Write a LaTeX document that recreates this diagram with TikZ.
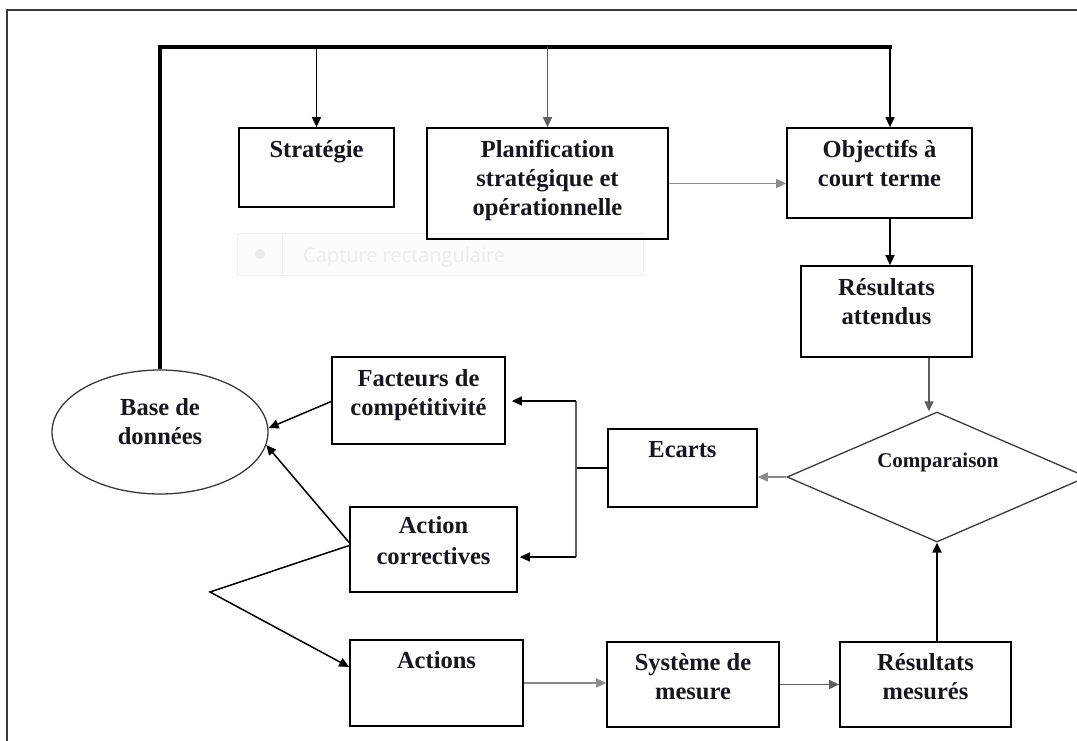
\documentclass[tikz,border=0pt]{standalone}
\usepackage{fontspec}
\setmainfont{Liberation Serif}
\newfontfamily\capfont{Open Sans}
\usetikzlibrary{arrows.meta,shapes.geometric}
\definecolor{ink}{HTML}{16161E}
\definecolor{linegray}{HTML}{8C8C8C}
\definecolor{darkgray}{HTML}{5E5E5E}
\definecolor{shapegray}{HTML}{3A3A3A}
\definecolor{capline}{HTML}{F1F1F1}
\definecolor{capfill}{HTML}{FCFCFC}
\definecolor{captext}{HTML}{ECECEC}
\newcommand\mylines[1]{\begin{tabular}[t]{@{}c@{}}#1\end{tabular}}
\tikzset{
  box/.style={draw=black, line width=1.7pt, rectangle, inner sep=0pt},
  txt/.style={anchor=base, inner sep=0pt, text=ink, font=\bfseries\fontsize{24.5}{29}\selectfont},
  conn/.style={line width=1.5pt, draw=black},
  arr/.style={conn, -{Triangle[length=10pt,width=9pt]}},
  grayline/.style={draw=linegray},
  midgray/.style={draw=darkgray},
  fb/.style={line width=3.3pt, draw=black}
}
\begin{document}
\begin{tikzpicture}[x=1pt,y=-1pt]
\useasboundingbox (0,0) rectangle (1077,740);
\fill[white] (0,0) rectangle (1077,740);
% outer frame
\draw[line width=1.5pt, draw=shapegray] (7,750) -- (7,10) -- (1090,10);
% faint screen-capture overlay
\node[draw=capline, fill=capfill, line width=1pt, minimum width=406pt, minimum height=42pt, inner sep=0pt] (cap) at (440,254) {};
\draw[draw=capline, line width=1pt] (282,233) -- (282,275);
\fill[captext] (260,254) circle (5pt);
\node[anchor=base west, inner sep=0pt, text=captext, font=\capfont\fontsize{20}{24}\selectfont] (captxt) at (303,262) {Capture rectangulaire};
% boxes
\node[box, minimum width=155pt, minimum height=79pt] (strat) at (316.5,167.5) {};
\node[box, minimum width=241pt, minimum height=111pt] (plan) at (547.5,183.5) {};
\node[box, minimum width=185pt, minimum height=90pt] (obj) at (879.5,173) {};
\node[box, minimum width=171pt, minimum height=91pt] (resatt) at (886.5,311.5) {};
\node[box, minimum width=149pt, minimum height=78pt] (ecarts) at (682.5,468) {};
\node[box, minimum width=173pt, minimum height=87pt] (fact) at (418.5,400.5) {};
\node[box, minimum width=167pt, minimum height=85pt] (actcor) at (433.5,549.5) {};
\node[box, minimum width=173pt, minimum height=86pt] (actions) at (436.5,683) {};
\node[box, minimum width=172pt, minimum height=85pt] (sys) at (693,684.5) {};
\node[box, minimum width=171pt, minimum height=85pt] (resmes) at (925.5,684.5) {};
\node[ellipse, draw=shapegray, line width=1.3pt, minimum width=216pt, minimum height=124pt, inner sep=0pt] (base) at (160,432) {};
\node[diamond, draw=shapegray, line width=1.3pt, minimum width=300pt, minimum height=130pt, inner sep=0pt] (comp) at (937,477) {};
% texts
\node[txt] (tstrat) at (316.5,157) {Stratégie};
\node[txt] (tplan) at (547.5,157) {\mylines{Planification\\stratégique et\\opérationnelle}};
\node[txt] (tobj) at (879.5,157) {\mylines{Objectifs à\\court terme}};
\node[txt] (tresatt) at (886.5,295) {\mylines{Résultats\\attendus}};
\node[txt] (tecarts) at (682.5,457) {Ecarts};
\node[txt, font=\bfseries\fontsize{21}{25}\selectfont] (tcomp) at (938,467) {Comparaison};
\node[txt] (tfact) at (418.5,386) {\mylines{Facteurs de\\compétitivité}};
\node[txt] (tactcor) at (433.5,533) {\mylines{Action\\[2pt]correctives}};
\node[txt] (tactions) at (436.5,668) {Actions};
\node[txt] (tsys) at (693,670) {\mylines{Système de\\mesure}};
\node[txt] (tresmes) at (925.5,670) {\mylines{Résultats\\mesurés}};
\node[txt] (tbase) at (160,415) {\mylines{Base de\\données}};
% feedback loop
\coordinate (tl) at (160,47);
\coordinate (tr) at (890,47);
\draw[fb] (base.north) -- (tl) -- ([xshift=1.6pt]tr);
\draw[arr] (strat.north |- tl) -- (strat.north);
\draw[arr, midgray] (plan.north |- tl) -- (plan.north);
\draw[arr] (tr) -- (tr |- obj.north);
% top chain
\draw[arr, grayline] (plan.east) -- (plan.east -| obj.west);
\draw[arr] (tr |- obj.south) -- (tr |- resatt.north);
\coordinate (rax) at (929,0);
\draw[arr, midgray] (rax |- resatt.south) -- (rax |- comp.north);
\draw[arr, grayline] (comp.west) -- (comp.west -| ecarts.east);
% distribution of gaps
\coordinate (jt) at (576,401);
\coordinate (jb) at (576,557);
\draw[conn] (ecarts.west) -- (ecarts.west -| jt);
\draw[conn, midgray] (jt) -- (jb);
\draw[arr] (jt) -- ([xshift=6pt]fact.east |- jt);
\draw[arr] (jb) -- ([xshift=2pt]actcor.east |- jb);
% to database
\draw[arr] ([yshift=-1pt]fact.west) -- ([yshift=4pt]base.east);
\draw[arr] ([yshift=7pt]actcor.west) -- (base.-7);
% corrective actions to actions
\coordinate (v) at (210,592);
\draw[arr] ([yshift=4pt]actcor.west) -- (v) -- ([yshift=16pt]actions.west);
% bottom chain
\draw[arr, grayline] (actions.east) -- (actions.east -| sys.west);
\draw[arr, midgray] (sys.east) -- (sys.east -| resmes.west);
\draw[arr, line width=2pt] (comp.south |- resmes.north) -- (comp.south);
\end{tikzpicture}
\end{document}
